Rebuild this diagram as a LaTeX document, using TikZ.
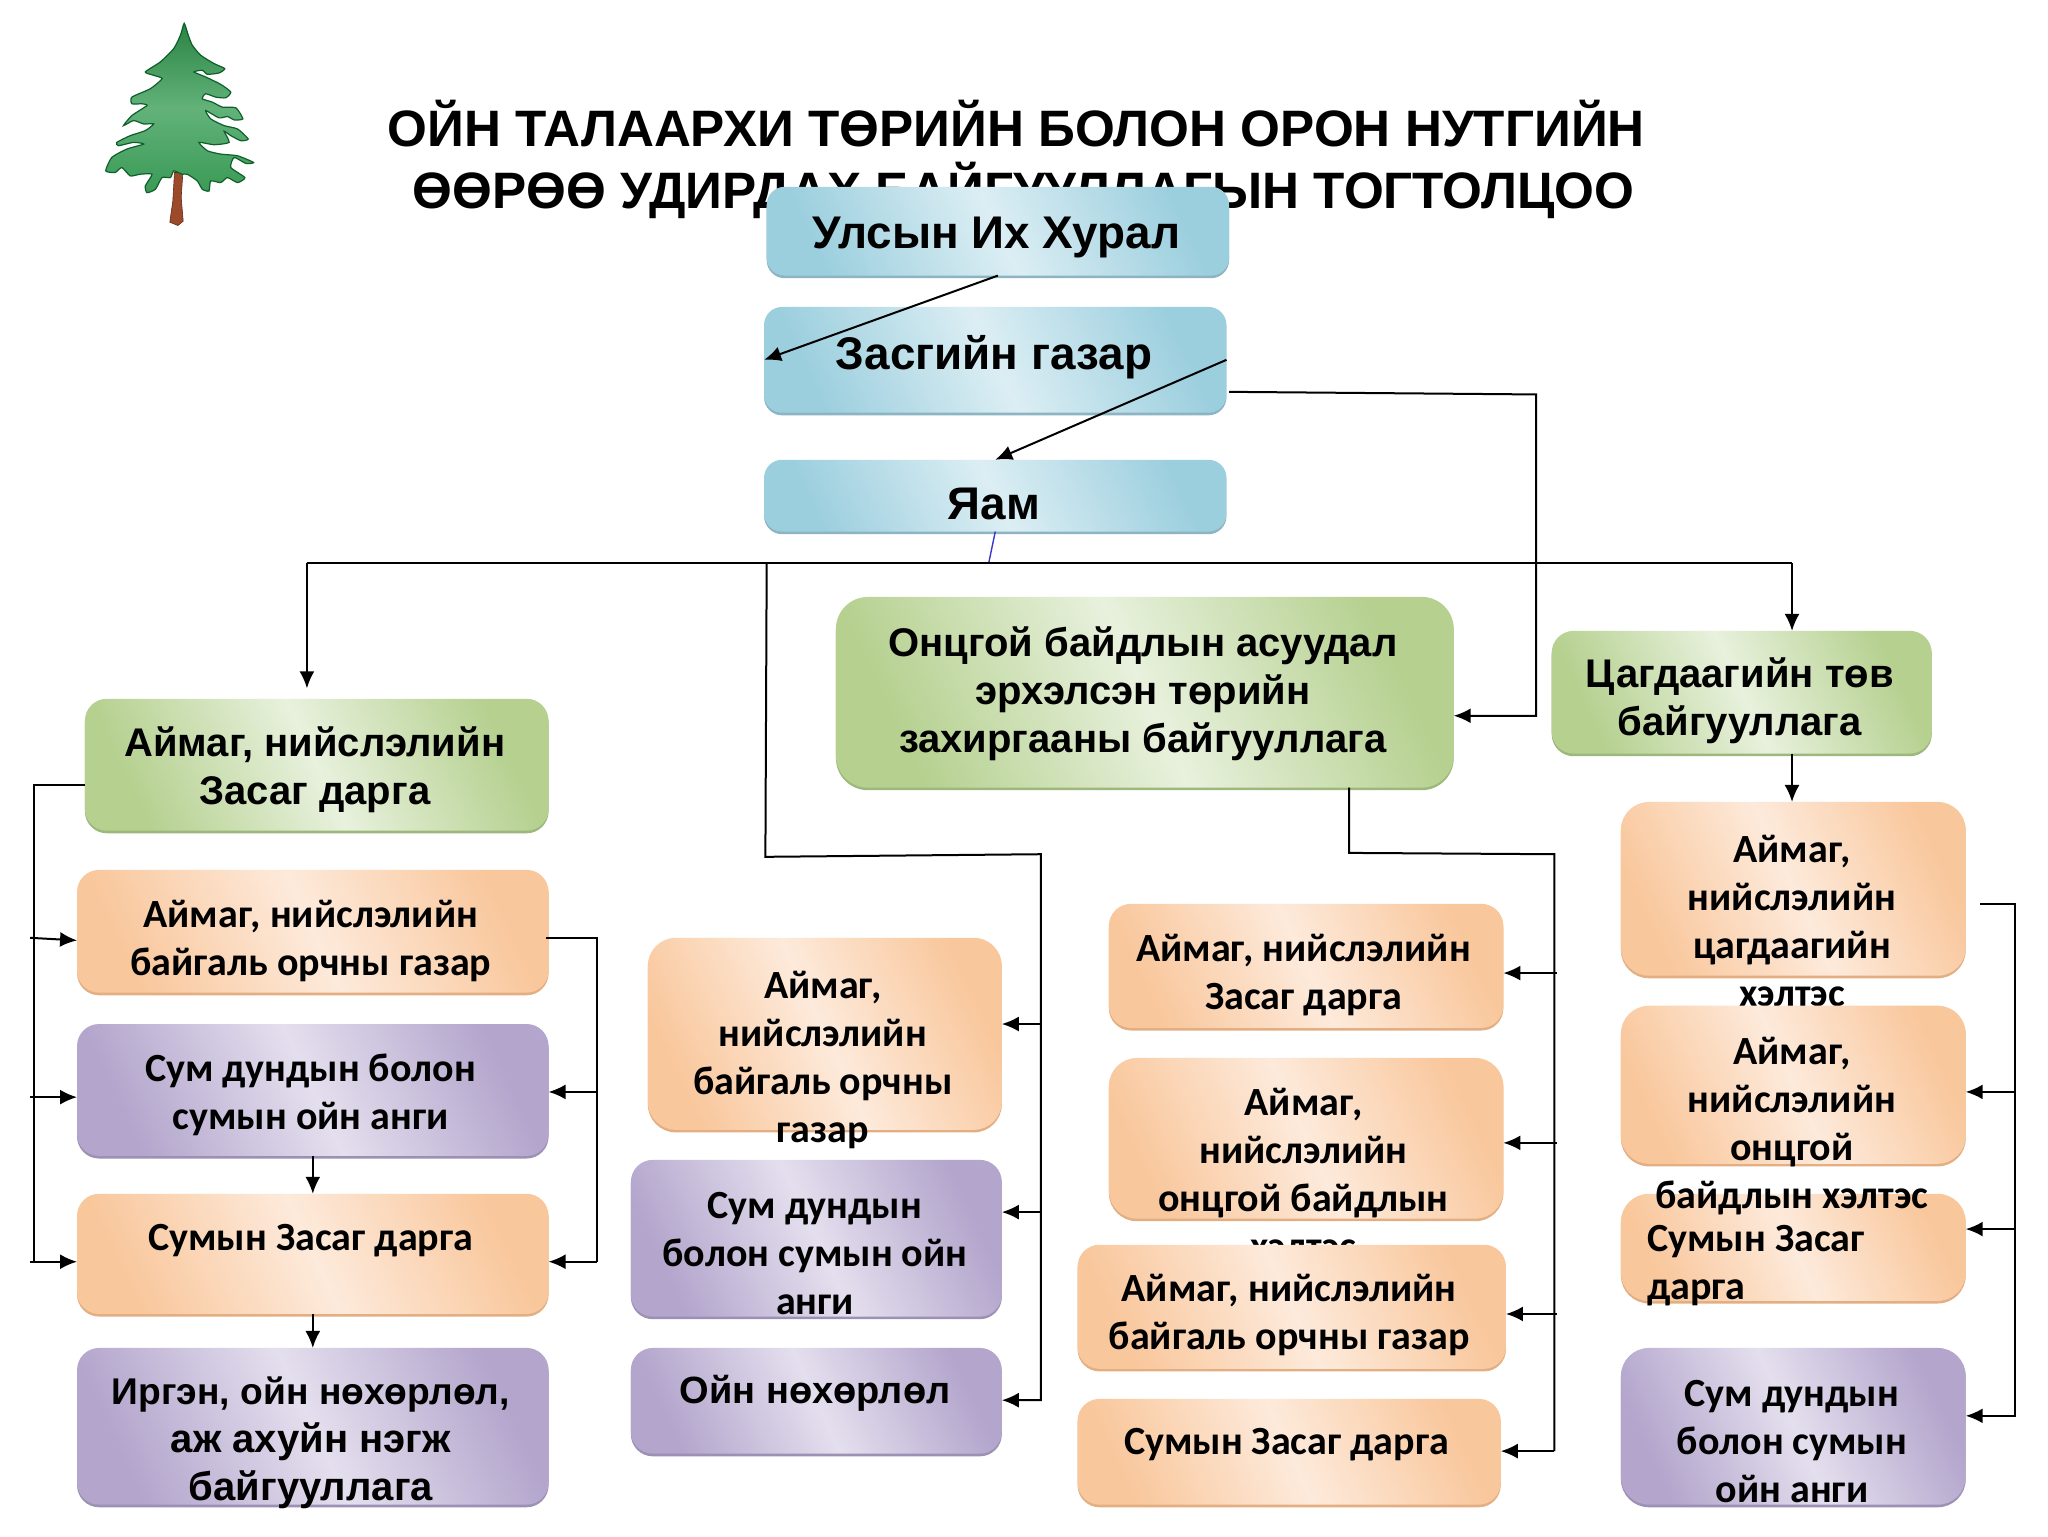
\documentclass[tikz,border=0pt]{standalone}
\usepackage{fontspec}
\setmainfont{Liberation Sans}
\newfontfamily\calfont{Carlito}
\usetikzlibrary{arrows.meta,fit,shadows}
\definecolor{blE}{HTML}{9CCFDE}\definecolor{blM}{HTML}{DCEEF4}\definecolor{blS}{HTML}{8DB4C2}
\definecolor{grE}{HTML}{B5D08F}\definecolor{grM}{HTML}{E8F1DD}\definecolor{grS}{HTML}{9DB87C}
\definecolor{orE}{HTML}{F9C79C}\definecolor{orM}{HTML}{FDEADB}\definecolor{orS}{HTML}{E3AE82}
\definecolor{puE}{HTML}{B3A5CC}\definecolor{puM}{HTML}{E4DFEE}\definecolor{puS}{HTML}{9C90B4}
\definecolor{trT}{HTML}{2B8443}\definecolor{trM}{HTML}{62B27A}\definecolor{trB}{HTML}{3A9A55}
\definecolor{trO}{HTML}{0E5F2A}\definecolor{trk}{HTML}{9C4A2A}
\tikzset{
  boxbase/.style={inner sep=0pt,outer sep=0pt,rounded corners=#1},
  blu/.style={boxbase=9pt,left color=blE,right color=blE,middle color=blM,shading angle=115,
    general shadow={fill=blS,shadow xshift=0pt,shadow yshift=-1.3pt}},
  grn/.style={boxbase=#1,left color=grE,right color=grE,middle color=grM,shading angle=115,
    general shadow={fill=grS,shadow xshift=0pt,shadow yshift=-1.3pt}},
  grn/.default=11pt,
  org/.style={boxbase=#1,left color=orE,right color=orE,middle color=orM,shading angle=115,
    general shadow={fill=orS,shadow xshift=0pt,shadow yshift=-1.3pt}},
  org/.default=11pt,
  pur/.style={boxbase=#1,left color=puE,right color=puE,middle color=puM,shading angle=115,
    general shadow={fill=puS,shadow xshift=0pt,shadow yshift=-1.3pt}},
  pur/.default=11pt,
  ttl/.style={align=center,inner sep=0pt,font=\fontsize{25.6}{30.7}\selectfont\bfseries},
  txA/.style={align=center,inner sep=0pt,font=\fontsize{20}{24}\selectfont\bfseries},
  txH/.style={align=center,inner sep=0pt,font=\fontsize{22.9}{26}\selectfont\bfseries},
  txC/.style={align=center,inner sep=0pt,font=\calfont\fontsize{20}{24}\selectfont\bfseries},
  txL/.style={align=left,inner sep=0pt,font=\calfont\fontsize{20}{24}\selectfont\bfseries},
  lin/.style={line width=1pt,black},
  arr/.style={line width=1pt,black,-{Latex[length=8.5pt,width=7.5pt]}},
}
\begin{document}
\begin{tikzpicture}[x=0.65306pt,y=-0.65306pt]
\fill[white] (0,0) rectangle (1568,1176);
\useasboundingbox (0,0) rectangle (1568,1176);
% tree
\begin{scope}[shift={(68.9,7.6)},scale=0.2567]
\fill[trk,draw=trk!60!black,line width=0.3pt] (252,485) -- (277,485) -- (272,560) -- (278,630) -- (262,643) -- (238,633) -- (247,570) -- cycle;
\shade[top color=trT,bottom color=trB,middle color=trM,draw=trO,line width=0.6pt]
 plot[smooth cycle,tension=0.35] coordinates {(281,40)(293,75)(305,105)(330,135)(370,160)(402,175)(385,188)(350,192)(335,180)(310,185)(345,200)(390,222)(420,245)(405,262)(375,260)(345,250)(335,265)(365,275)(395,290)(435,292)(456,325)(430,328)(410,318)(385,322)(345,300)(360,325)(400,345)(440,355)(472,385)(450,390)(420,375)(400,362)(415,395)(370,402)(325,395)(350,420)(390,430)(440,435)(488,455)(465,458)(430,440)(420,470)(462,500)(440,515)(410,500)(390,515)(360,510)(355,540)(335,535)(320,510)(290,490)(275,490)(250,480)(240,500)(215,500)(195,535)(170,545)(165,525)(185,490)(150,490)(120,495)(95,470)(75,485)(47,480)(65,440)(110,415)(160,400)(130,395)(85,405)(80,395)(120,375)(165,360)(190,340)(160,340)(130,330)(100,345)(125,315)(170,285)(155,280)(125,280)(125,260)(180,235)(215,205)(190,195)(165,185)(210,155)(250,115)(270,75)};
\end{scope}
% title
\node[ttl] (title) at (778,122) {ОЙН ТАЛААРХИ ТӨРИЙН БОЛОН ОРОН НУТГИЙН\\\hspace*{7.2pt}ӨӨРӨӨ УДИРДАХ БАЙГУУЛЛАГЫН ТОГТОЛЦОО};
% top boxes
\node[blu,fit={(587,143)(941,211)}] (ulsyn) {};
\node[txH] (ulsynT) at (763,182) {Улсын Их Хурал};
\node[blu,fit={(585,235)(939,316)}] (zasag) {};
\node[txH] (zasagT) at (761,273.5) {Засгийн газар};
\node[blu,fit={(585,352)(939,407)}] (yam) {};
\node[txH] (yamT) at (761,386) {Яам};
\node[grn=16pt,fit={(640,457)(1113,603)}] (onts) {};
\node[txA] (ontsT) at (875,531.5) {Онцгой байдлын асуудал\\эрхэлсэн төрийн\\захиргааны байгууллага};
\node[grn,fit={(1188,483)(1479,577)}] (tsag) {};
\node[txA] (tsagT) at (1332,536.5) {Цагдаагийн төв\\байгууллага};
\node[grn,fit={(65,535)(420,636)}] (aim) {};
\node[txA] (aimT) at (241,589) {Аймаг, нийслэлийн\\Засаг дарга};
% left column
\node[org,fit={(59,666)(420,760)}] (la) {};
\node[txC] (laT) at (238,720.5) {Аймаг, нийслэлийн\\байгаль орчны газар};
\node[pur,fit={(59,784)(420,885)}] (lb) {};
\node[txC] (lbT) at (238,838) {Сум дундын болон\\сумын ойн анги};
\node[org,fit={(59,914)(420,1006)}] (lc) {};
\node[txC] (lcT) at (238,950) {Сумын Засаг дарга};
\node[pur,fit={(59,1032)(420,1152)}] (ld) {};
\node[txA] (ldT) at (238,1105) {{\fontsize{18.6}{24}\selectfont Иргэн, ойн нөхөрлөл,}\\аж ахуйн нэгж\\байгууллага};
% middle column
\node[org=14pt,fit={(496,718)(767,865)}] (ma) {};
\node[txC] (maT) at (630,811.5) {Аймаг,\\нийслэлийн\\байгаль орчны\\газар};
\node[pur,fit={(483,888)(767,1008)}] (mb) {};
\node[txC] (mbT) at (624,960) {Сум дундын\\болон сумын ойн\\анги};
\node[pur,fit={(483,1032)(767,1113)}] (mc) {};
\node[txA,font=\fontsize{19}{24}\selectfont\bfseries] (mcT) at (624,1067) {Ойн нөхөрлөл};
% mid-right column
\node[org,fit={(849,692)(1151,787)}] (na) {};
\node[txC] (naT) at (998,746.5) {Аймаг, нийслэлийн\\Засаг дарга};
\node[org=14pt,fit={(849,810)(1151,933)}] (nb) {};
\node[txC] (nbT) at (998,899) {Аймаг,\\нийслэлийн\\онцгой байдлын\\хэлтэс};
\node[org,fit={(825,953)(1153,1048)}] (nc) {};
\node[txC] (ncT) at (987,1007) {Аймаг, нийслэлийн\\байгаль орчны газар};
\node[org,fit={(825,1071)(1149,1152)}] (nd) {};
\node[txC] (ndT) at (985,1106) {Сумын Засаг дарга};
% right column
\node[org=14pt,fit={(1241,914)(1505,996)}] (rc) {};
\node[txL,anchor=west] (rcT) at (1261,969) {Сумын Засаг\\дарга};
\node[org=14pt,fit={(1241,614)(1505,747)}] (ra) {};
\node[txC] (raT) at (1372,705) {Аймаг,\\нийслэлийн\\цагдаагийн\\хэлтэс};
\node[org=14pt,fit={(1241,770)(1505,891)}] (rb) {};
\node[txC] (rbT) at (1372,862.5) {Аймаг,\\нийслэлийн\\онцгой\\байдлын хэлтэс};
\node[pur=14pt,fit={(1241,1032)(1505,1152)}] (rd) {};
\node[txC] (rdT) at (1372,1104) {Сум дундын\\болон сумын\\ойн анги};
% junctions
\coordinate (z1) at (941,300); \coordinate (z2) at (1176,302); \coordinate (z3) at (1176,548);
\coordinate (bus) at (757,431); \coordinate (busL) at (235,431); \coordinate (busR) at (1372,431);
\coordinate (aimTop) at (235,527);
\coordinate (mj0) at (587,431); \coordinate (mj1) at (586,656); \coordinate (mj2) at (797,654); \coordinate (mj3) at (797,1072);
\coordinate (mb1) at (797,784); \coordinate (mb2) at (797,928);
\coordinate (nj0) at (1033,603); \coordinate (nj1) at (1033,653); \coordinate (nj2) at (1190,654); \coordinate (nj3) at (1190,1111);
\coordinate (nb1) at (1192,745); \coordinate (nb2) at (1192,875); \coordinate (nb3) at (1192,1006);
\coordinate (rj0) at (1516,692); \coordinate (rj1) at (1543,692); \coordinate (rj2) at (1543,1084);
\coordinate (rb1) at (1543,836); \coordinate (rb2) at (1543,941);
\coordinate (lj0) at (26,601); \coordinate (lj1) at (26,966);
\coordinate (lb1) at (23,718); \coordinate (lb2) at (23,840); \coordinate (lb3) at (23,966);
\coordinate (la1) at (59,720);
\coordinate (qj0) at (418,718); \coordinate (qj1) at (457,718); \coordinate (qj2) at (457,966); \coordinate (qb1) at (457,836);
% connectors
\draw[arr] (ulsyn.south) -- (zasag.west);
\draw[arr] (zasag.east) -- (yam.north);
\draw[arr] (z1) -- (z2) -- (z3) -- (onts.east |- z3);
\draw[blue!55!gray,line width=0.7pt] (yam.south) -- (bus);
\draw[lin] (busL) -- (busR);
\draw[arr] (busL) -- (aimTop);
\draw[arr] (busR) -- (busR |- tsag.north);
\draw[arr] (mj0) -- (mj1) -- (mj2) -- (mj3) -- (mc.east |- mj3);
\draw[arr] (mb1) -- (ma.east |- mb1);
\draw[arr] (mb2) -- (mb.east |- mb2);
\draw[lin] (nj0) -- (nj1) -- (nj2) -- (nj3);
\draw[arr] (nj3) -- (nd.east |- nj3);
\draw[arr] (nb1) -- (na.east |- nb1);
\draw[arr] (nb2) -- (nb.east |- nb2);
\draw[arr] (nb3) -- (nc.east |- nb3);
\draw[arr] (tsag.south -| busR) -- (ra.north -| busR);
\draw[arr] (rj0) -- (rj1) -- (rj2) -- (rd.east |- rj2);
\draw[arr] (rb1) -- (rb.east |- rb1);
\draw[arr] (rb2) -- (rc.east |- rb2);
\draw[lin] (aim.west |- lj0) -- (lj0) -- (lj1);
\draw[arr] (lb1) -- (la1);
\draw[arr] (lb2) -- (lb.west |- lb2);
\draw[arr] (lb3) -- (lc.west |- lb3);
\draw[lin] (qj0) -- (qj1) -- (qj2);
\draw[arr] (qb1) -- (lb.east |- qb1);
\draw[arr] (qj2) -- (lc.east |- qj2);
\draw[arr] (lb.south) -- (lb.south |- lc.north);
\draw[arr] (lc.south) -- (lc.south |- ld.north);
\end{tikzpicture}
\end{document}
